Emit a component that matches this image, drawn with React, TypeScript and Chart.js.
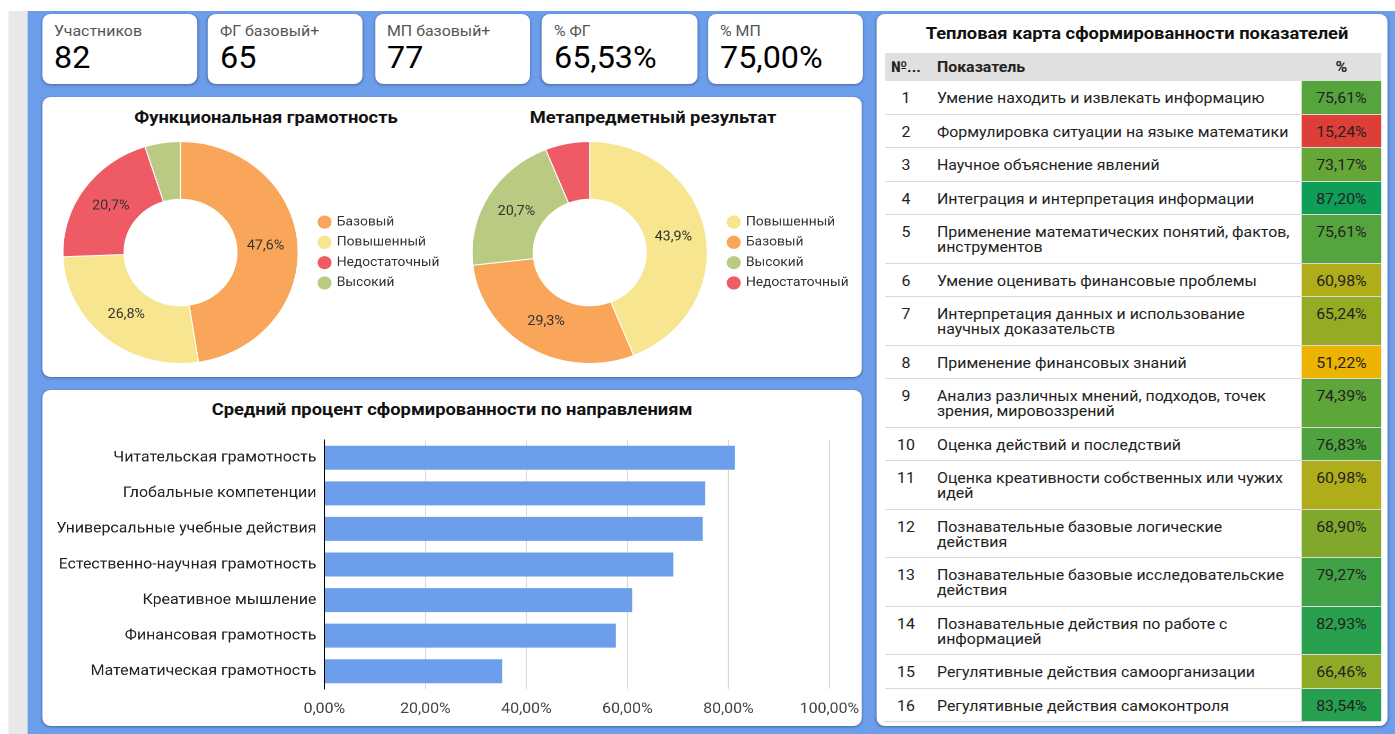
import React, { useEffect, useRef } from 'react';
import { Chart, registerables } from 'chart.js';

Chart.register(...registerables);

const S = 1.06; // horizontal stretch of the reference screenshot
const px = (v: number) => v / S;
const FONT = 'Roboto, "Noto Sans", sans-serif';

// ---------- data ----------
const kpiLabels = ['Участников', 'ФГ базовый+', 'МП базовый+', '% ФГ', '% МП'];
const kpiValues = ['82', '65', '77', '65,53%', '75,00%'];

const fgTitle = 'Функциональная грамотность';
const fgLevels = ['Базовый', 'Повышенный', 'Недостаточный', 'Высокий'];
const fgCounts = [39, 22, 17, 4];
const fgColors = ['#f9a65a', '#f7e68f', '#ef5b64', '#b9cb83'];

const mpTitle = 'Метапредметный результат';
const mpLevels = ['Повышенный', 'Базовый', 'Высокий', 'Недостаточный'];
const mpCounts = [36, 24, 17, 5];
const mpColors = ['#f7e68f', '#f9a65a', '#b9cb83', '#ef5b64'];

const barTitle = 'Средний процент сформированности по направлениям';
const directions = [
  'Читательская грамотность',
  'Глобальные компетенции',
  'Универсальные учебные действия',
  'Естественно-научная грамотность',
  'Креативное мышление',
  'Финансовая грамотность',
  'Математическая грамотность',
];
const directionValues = [81.3, 75.4, 74.9, 69.1, 60.98, 57.7, 35.2];
const xTickMin = 0;
const xTickMax = 100;
const xTickStep = 20;

const heatTitle = 'Тепловая карта сформированности показателей';
const heatHeaders = ['№...', 'Показатель', '%'];
const indicatorNums = [1, 2, 3, 4, 5, 6, 7, 8, 9, 10, 11, 12, 13, 14, 15, 16];
const indicatorNames = [
  'Умение находить и извлекать информацию',
  'Формулировка ситуации на языке математики',
  'Научное объяснение явлений',
  'Интеграция и интерпретация информации',
  'Применение математических понятий, фактов,\nинструментов',
  'Умение оценивать финансовые проблемы',
  'Интерпретация данных и использование\nнаучных доказательств',
  'Применение финансовых знаний',
  'Анализ различных мнений, подходов, точек\nзрения, мировоззрений',
  'Оценка действий и последствий',
  'Оценка креативности собственных или чужих\nидей',
  'Познавательные базовые логические\nдействия',
  'Познавательные базовые исследовательские\nдействия',
  'Познавательные действия по работе с\nинформацией',
  'Регулятивные действия самоорганизации',
  'Регулятивные действия самоконтроля',
];
const indicatorValues = [75.61, 15.24, 73.17, 87.2, 75.61, 60.98, 65.24, 51.22, 74.39, 76.83, 60.98, 68.9, 79.27, 82.93, 66.46, 83.54];

// ---------- helpers ----------
const fmtPct = (v: number, d: number) => v.toFixed(d).replace('.', ',') + '%';

const heatLow = [221, 62, 56];
const heatMid = [244, 180, 0];
const heatHigh = [15, 157, 88];
const heatMidValue = 50;
function heatColor(v: number): string {
  const lo = Math.min(...indicatorValues);
  const hi = Math.max(...indicatorValues);
  let a: number[], b: number[], t: number;
  if (v <= heatMidValue) {
    a = heatLow; b = heatMid; t = (v - lo) / (heatMidValue - lo);
  } else {
    a = heatMid; b = heatHigh; t = (v - heatMidValue) / (hi - heatMidValue);
  }
  t = Math.max(0, Math.min(1, t));
  const c = a.map((x, i) => Math.round(x + (b[i] - x) * t));
  return `rgb(${c[0]},${c[1]},${c[2]})`;
}

const pctLabelPlugin = {
  id: 'pctLabels',
  afterDatasetsDraw(chart: any) {
    const ctx = chart.ctx;
    const ds = chart.data.datasets[0];
    const total = ds.data.reduce((a: number, b: number) => a + b, 0);
    const meta = chart.getDatasetMeta(0);
    ctx.save();
    ctx.font = `13.5px ${FONT}`;
    ctx.fillStyle = '#333';
    ctx.textAlign = 'center';
    ctx.textBaseline = 'middle';
    meta.data.forEach((arc: any, i: number) => {
      const share = ds.data[i] / total;
      if (share < 0.08) return;
      const p = arc.getProps(['x', 'y', 'startAngle', 'endAngle', 'innerRadius', 'outerRadius'], true);
      const mid = (p.startAngle + p.endAngle) / 2;
      const r = p.innerRadius + (p.outerRadius - p.innerRadius) * 0.47;
      ctx.fillText(fmtPct(share * 100, 1), p.x + Math.cos(mid) * r, p.y + Math.sin(mid) * r);
    });
    ctx.restore();
  },
};

function donutConfig(labels: string[], counts: number[], colors: string[]): any {
  return {
    type: 'doughnut',
    data: {
      labels,
      datasets: [{ data: counts, backgroundColor: colors, borderColor: '#ffffff', borderWidth: 1 }],
    },
    options: {
      responsive: false,
      animation: false,
      devicePixelRatio: 2,
      cutout: '48%',
      layout: { padding: { left: 6.7, right: 13.1, top: 0, bottom: 0 } },
      plugins: {
        legend: {
          position: 'right',
          maxWidth: 120,
          labels: {
            usePointStyle: true,
            pointStyle: 'circle',
            boxWidth: 10,
            boxHeight: 10,
            padding: 7.3,
            color: '#333',
            font: { size: 13, family: FONT },
          },
        },
        tooltip: { enabled: false },
      },
    },
    plugins: [pctLabelPlugin],
  };
}

const card: React.CSSProperties = {
  position: 'absolute',
  background: '#ffffff',
  borderRadius: 8,
  boxShadow: '0 1px 3px rgba(0,0,0,0.35)',
};

const titleStyle: React.CSSProperties = {
  position: 'absolute',
  textAlign: 'center',
  fontWeight: 700,
  fontSize: 17.3,
  lineHeight: '20px',
  color: '#111',
  whiteSpace: 'nowrap',
};

const cellPad = '10px 0 7.5px';

export default function App() {
  const fgRef = useRef<HTMLCanvasElement>(null);
  const mpRef = useRef<HTMLCanvasElement>(null);
  const barRef = useRef<HTMLCanvasElement>(null);

  useEffect(() => {
    const charts: Chart[] = [];
    if (fgRef.current) charts.push(new Chart(fgRef.current, donutConfig(fgLevels, fgCounts, fgColors)));
    if (mpRef.current) charts.push(new Chart(mpRef.current, donutConfig(mpLevels, mpCounts, mpColors)));
    if (barRef.current) {
      charts.push(
        new Chart(barRef.current, {
          type: 'bar',
          data: {
            labels: directions,
            datasets: [
              {
                data: directionValues,
                backgroundColor: '#6d9eeb',
                barPercentage: 0.675,
                categoryPercentage: 1,
              },
            ],
          },
          options: {
            indexAxis: 'y',
            responsive: false,
            animation: false,
            devicePixelRatio: 2,
            layout: { padding: { left: 0, right: 774 - (px(829) - px(42)), top: 12, bottom: 0 } },
            plugins: { legend: { display: false }, tooltip: { enabled: false } },
            scales: {
              x: {
                min: xTickMin,
                max: xTickMax,
                ticks: {
                  stepSize: xTickStep,
                  callback: (v: any) => fmtPct(Number(v), 2),
                  color: '#444',
                  font: { size: 15, family: FONT },
                  padding: 3,
                  maxRotation: 0,
                },
                grid: { color: '#dadada', drawTicks: true, tickLength: 8, tickColor: 'rgba(0,0,0,0)' },
                border: { display: false },
                afterFit: (s: any) => {
                  s.height = 37;
                },
              },
              y: {
                ticks: { color: '#222', font: { size: 15, family: FONT }, padding: 0 },
                grid: { display: false, drawTicks: true, tickLength: px(8) },
                border: { display: true, color: '#000', width: 1 },
                afterFit: (s: any) => {
                  s.width = px(324 - 42);
                },
              },
            },
          } as any,
        })
      );
    }
    return () => charts.forEach((c) => c.destroy());
  }, []);

  const kpiLefts = [42, 208, 375, 542, 708];

  return (
    <div
      style={{
        position: 'fixed',
        left: 0,
        top: 0,
        width: 1395 / S,
        height: 734,
        transform: `scaleX(${S})`,
        transformOrigin: '0 0',
        background: '#ffffff',
        overflow: 'hidden',
        fontFamily: FONT,
        color: '#222',
      }}
    >
      <div style={{ position: 'absolute', left: px(8), top: 11, width: px(20), height: 723, background: '#e8e8e8' }} />
      <div style={{ position: 'absolute', left: px(28), top: 11, width: px(1395 - 28), height: 723, background: '#6d9eeb' }} />

      {kpiLabels.map((lab, i) => (
        <div key={lab} style={{ ...card, left: px(kpiLefts[i]), top: 14, width: px(155), height: 70 }}>
          <div style={{ position: 'absolute', left: px(12), top: 10, fontSize: 15, lineHeight: '15px', color: '#555', whiteSpace: 'nowrap' }}>{lab}</div>
          <div style={{ position: 'absolute', left: px(12), top: 29, fontSize: 30.5, lineHeight: '30px', color: '#000', whiteSpace: 'nowrap' }}>{kpiValues[i]}</div>
        </div>
      ))}

      {/* donut card */}
      <div style={{ ...card, left: px(42), top: 97, width: px(820), height: 280 }} />
      <div style={{ ...titleStyle, left: px(266) - 200, top: 107, width: 400 }}>{fgTitle}</div>
      <div style={{ ...titleStyle, left: px(653) - 200, top: 107, width: 400 }}>{mpTitle}</div>
      <canvas ref={fgRef} width={387} height={223} style={{ position: 'absolute', left: px(42), top: 141 }} />
      <canvas ref={mpRef} width={387} height={223} style={{ position: 'absolute', left: px(452), top: 141 }} />

      {/* bar card */}
      <div style={{ ...card, left: px(42), top: 390, width: px(820), height: 336 }} />
      <div style={{ ...titleStyle, left: px(452) - 300, top: 399, width: 600 }}>{barTitle}</div>
      <canvas ref={barRef} width={774} height={298} style={{ position: 'absolute', left: px(42), top: 428 }} />

      {/* heatmap card */}
      <div style={{ ...card, left: px(877), top: 14, width: px(511), height: 712 }} />
      <div style={{ ...titleStyle, left: px(1137) - 250, top: 23, width: 500 }}>{heatTitle}</div>
      <div style={{ position: 'absolute', left: px(885), top: 53, width: px(496), fontSize: 15, color: '#222' }}>
        <div style={{ display: 'flex', height: 28, alignItems: 'center', background: '#e0e0e0', fontWeight: 700 }}>
          <div style={{ width: px(42), textAlign: 'center' }}>{heatHeaders[0]}</div>
          <div style={{ width: px(375), paddingLeft: px(10), boxSizing: 'border-box' }}>{heatHeaders[1]}</div>
          <div style={{ width: px(79), textAlign: 'center' }}>{heatHeaders[2]}</div>
        </div>
        {indicatorNums.map((n, i) => (
          <div key={n} style={{ display: 'flex', alignItems: 'stretch', borderBottom: '1px solid #d9d9d9', lineHeight: '15px' }}>
            <div style={{ width: px(42), textAlign: 'center', padding: cellPad }}>{n}</div>
            <div style={{ width: px(375), boxSizing: 'border-box', padding: cellPad, paddingLeft: px(10), whiteSpace: 'pre' }}>{indicatorNames[i]}</div>
            <div style={{ width: px(79), textAlign: 'center', padding: cellPad, background: heatColor(indicatorValues[i]) }}>{fmtPct(indicatorValues[i], 2)}</div>
          </div>
        ))}
      </div>
    </div>
  );
}
